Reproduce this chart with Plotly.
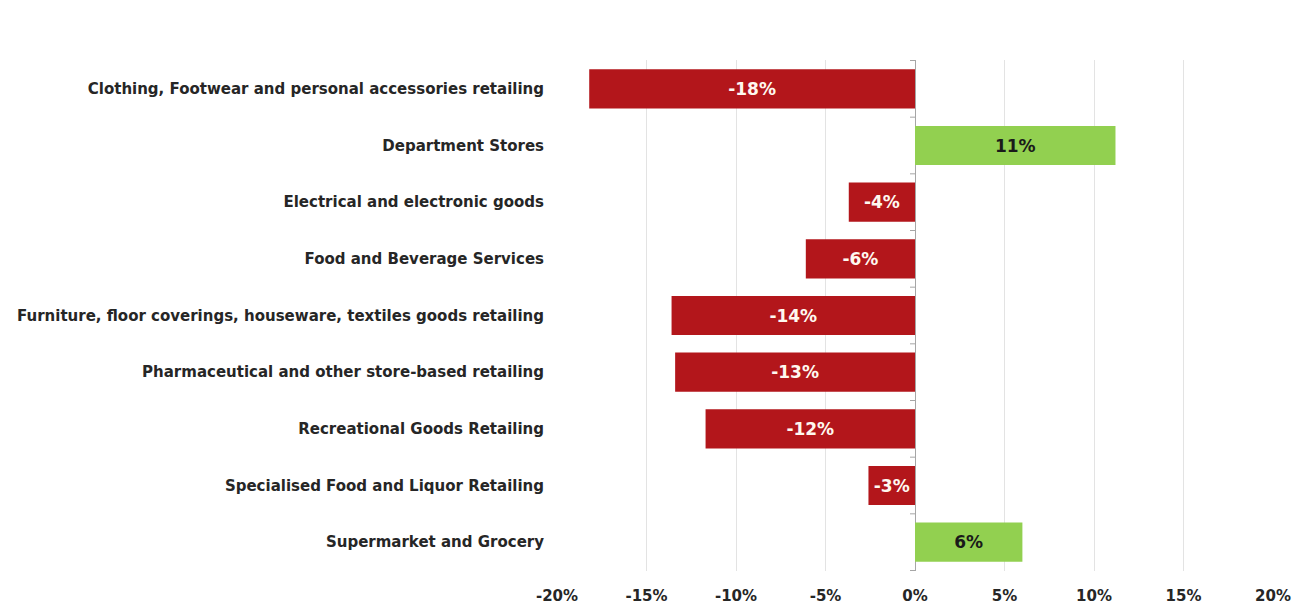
import plotly.graph_objects as go

# Retail sub-sectors and their change in turnover (%)
categories = [
    "Clothing, Footwear and personal accessories retailing",
    "Department Stores",
    "Electrical and electronic goods",
    "Food and Beverage Services",
    "Furniture, floor coverings, houseware, textiles goods retailing",
    "Pharmaceutical and other store-based retailing",
    "Recreational Goods Retailing",
    "Specialised Food and Liquor Retailing",
    "Supermarket and Grocery",
]
change_pct = [-18.2, 11.2, -3.7, -6.1, -13.6, -13.4, -11.7, -2.6, 6.0]

tick_vals = [-20, -15, -10, -5, 0, 5, 10, 15, 20]
tick_text = ["-20%", "-15%", "-10%", "-5%", "0%", "5%", "10%", "15%", "20%"]

RED = "#B3161B"
GREEN = "#92D050"
FONT = "DejaVu Sans"

colors = [RED if v < 0 else GREEN for v in change_pct]
text_colors = ["#FFF8F0" if v < 0 else "#1A1A1A" for v in change_pct]
labels = [f"{v:.0f}%" for v in change_pct]

fig = go.Figure(
    go.Bar(
        x=change_pct,
        y=categories,
        orientation="h",
        marker=dict(color=colors, line=dict(width=0)),
        text=labels,
        textposition="inside",
        insidetextanchor="middle",
        textfont=dict(family=FONT, size=17, color=text_colors, weight="bold"),
        constraintext="none",
        cliponaxis=False,
        hoverinfo="skip",
    )
)

# small tick marks on the zero line between categories
shapes = []
for i in range(len(categories) + 1):
    shapes.append(
        dict(
            type="line",
            xref="x",
            yref="y",
            xsizemode="pixel",
            xanchor=0,
            x0=-5,
            x1=0,
            y0=i - 0.5,
            y1=i - 0.5,
            line=dict(color="#A6A6A6", width=1),
        )
    )

fig.update_layout(
    width=1299,
    height=608,
    margin=dict(l=557, r=26, t=60, b=37, autoexpand=False),
    paper_bgcolor="white",
    plot_bgcolor="white",
    bargap=0.31,
    showlegend=False,
    shapes=shapes,
    uniformtext=dict(minsize=17, mode="show"),
    font=dict(family=FONT, color="#262626"),
)

fig.update_xaxes(
    range=[-20, 20],
    tickvals=tick_vals,
    ticktext=tick_text,
    tickfont=dict(family=FONT, size=15, color="#262626", weight="bold"),
    showgrid=True,
    gridcolor="#E3E3E3",
    gridwidth=1,
    zeroline=True,
    zerolinecolor="#A6A6A6",
    zerolinewidth=1,
    showline=False,
    ticks="",
    ticklabelstandoff=14,
    automargin=False,
)

fig.update_yaxes(
    autorange="reversed",
    tickfont=dict(family=FONT, size=15, color="#262626", weight="bold"),
    showgrid=False,
    showline=False,
    ticks="",
    ticklabelstandoff=12,
    automargin=False,
)

fig.write_html("out.html")
